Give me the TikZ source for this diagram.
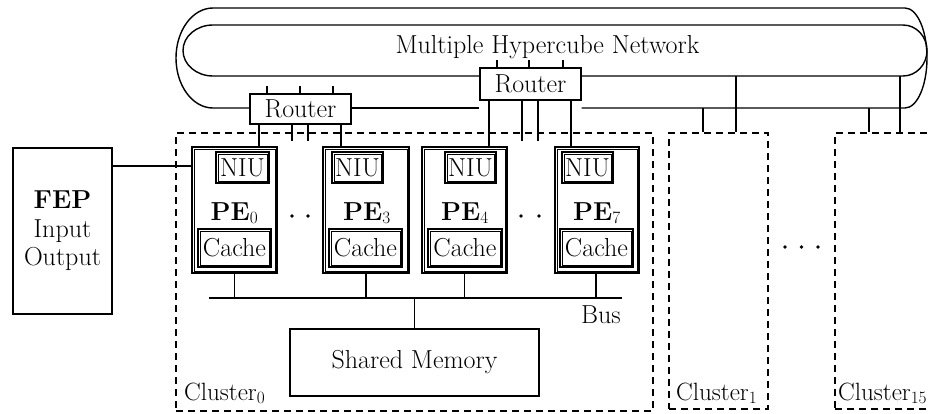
\documentclass[tikz,border=0pt]{standalone}
\usetikzlibrary{calc}
\begin{document}
\begin{tikzpicture}[x=1pt,y=-1pt,
  every node/.style={font=\fontsize{26}{28.5}\selectfont, inner sep=0pt},
  box/.style={draw, line width=1.4pt, rectangle},
  dbox/.style={draw, rectangle, line width=1.3pt},
  inner/.style={line width=0.7pt},
  wire/.style={line width=1.4pt},
  busline/.style={line width=2.4pt},
  clus/.style={draw, line width=1.4pt, dash pattern=on 7pt off 5pt},
  cl/.style={font=\fontsize{25}{28}\selectfont, anchor=base west},
  pelbl/.style={anchor=base},
  dot/.style={circle, fill, minimum size=3.6pt, inner sep=0pt}]
\useasboundingbox (0,0) rectangle (929,413);

% clusters
\node[clus, minimum width=477pt, minimum height=278pt] (c0) at (414.5,272) {};
\node[clus, minimum width=99pt, minimum height=276pt] (c1) at (718.5,271) {};
\node[clus, minimum width=100pt, minimum height=276pt] (c15) at (885,271) {};
\node[cl] (c0l) at (184,400) {Cluster$_0$};
\node[cl] (c1l) at (676,400) {Cluster$_1$};
\node[cl] (c15l) at (838,400) {Cluster$_{15}$};
\node[dot] (cd1) at (785,247) {};
\node[dot] (cd2) at (801.5,247) {};
\node[dot] (cd3) at (818,247) {};

% routers
\node[box, minimum width=101pt, minimum height=30pt] (r1) at (300.5,109) {Router};
\node[box, minimum width=101pt, minimum height=32pt] (r2) at (530.5,84) {Router};

% network loops
\draw[wire] (r1.west |- 0,108) -- (213,108)
  arc[start angle=90, end angle=270, x radius=37, y radius=50] -- (905,8)
  arc[start angle=-90, end angle=90, x radius=22, y radius=50] -- (r2.east |- 0,108);
\draw[wire] (r1.east |- 0,108) -- (r2.west |- 0,108);
\draw[wire] (r2.west |- 0,76) -- (213,76)
  arc[start angle=90, end angle=270, x radius=30, y radius=25.5] -- (903,25)
  arc[start angle=-90, end angle=90, x radius=24, y radius=25.5] -- (r2.east |- 0,76);
\node[anchor=base] (net) at (547.5,53) {Multiple Hypercube Network};

% router top ticks
\foreach \x in {267,300,333} \draw[wire] (r1.north -| \x,0) -- ++(0,-7);
\foreach \x in {497,529,563} \draw[wire] (r2.north -| \x,0) -- ++(0,-7);

% network to other clusters
\draw[wire] (703,108) -- (c1.north -| 703,0);
\draw[wire] (736,76) -- (c1.north -| 736,0);
\draw[wire] (869,108) -- (c15.north -| 869,0);
\draw[wire] (900,76) -- (c15.north -| 900,0);

% FEP
\node[box, minimum width=99pt, minimum height=166pt, align=center] (fep) at (62.5,231)
  {\textbf{FEP}\\Input\\Output};

% PEs
\node[dbox, minimum width=85pt, minimum height=126pt] (pe0) at (234.5,210) {};
\node[dbox, minimum width=86pt, minimum height=126pt] (pe3) at (366,210) {};
\node[dbox, minimum width=85pt, minimum height=126pt] (pe4) at (464.5,210) {};
\node[dbox, minimum width=84pt, minimum height=126pt] (pe7) at (597,210) {};

\node[dbox, minimum width=53pt, minimum height=31pt] (niu0) at (242.5,167.5) {NIU};
\node[dbox, minimum width=51pt, minimum height=31pt] (niu3) at (357.5,167.5) {NIU};
\node[dbox, minimum width=51pt, minimum height=31pt] (niu4) at (470.5,167.5) {NIU};
\node[dbox, minimum width=51pt, minimum height=31pt] (niu7) at (587.5,167.5) {NIU};

\node[dbox, minimum width=73pt, minimum height=38pt] (ca0) at (234.5,248) {Cache};
\node[dbox, minimum width=73pt, minimum height=38pt] (ca3) at (365.5,248) {Cache};
\node[dbox, minimum width=74pt, minimum height=38pt] (ca4) at (465,248) {Cache};
\node[dbox, minimum width=73pt, minimum height=38pt] (ca7) at (596.5,248) {Cache};

% inner lines of the double outlines
\foreach \n in {pe0,pe3,pe4,pe7,niu0,niu3,niu4,niu7,ca0,ca3,ca4,ca7}
  \draw[inner] ($(\n.north west)+(2.8,2.8)$) rectangle ($(\n.south east)+(-2.8,-2.8)$);

\node[pelbl] (p0) at (234.5,220) {\textbf{PE}$_0$};
\node[pelbl] (p3) at (367,220) {\textbf{PE}$_3$};
\node[pelbl] (p4) at (465,220) {\textbf{PE}$_4$};
\node[pelbl] (p7) at (597,220) {\textbf{PE}$_7$};

\node[dot] (d1) at (292,216) {};
\node[dot] (d2) at (308,216) {};
\node[dot] (d3) at (521,216) {};
\node[dot] (d4) at (539,216) {};

% router to PEs
\draw[wire] (r1.south -| 259,0) -- (pe0.north -| 259,0);
\draw[wire] (r1.south -| 341,0) -- (pe3.north -| 341,0);
\draw[wire] (r2.south -| 489,0) -- (pe4.north -| 489,0);
\draw[wire] (r2.south -| 571,0) -- (pe7.north -| 571,0);
\coordinate (s1) at (292,141);
\coordinate (s2) at (308,141);
\coordinate (s3) at (522,141);
\coordinate (s4) at (538,141);
\draw[wire] (r1.south -| s1) -- (s1);
\draw[wire] (r1.south -| s2) -- (s2);
\draw[wire] (r2.south -| s3) -- (s3);
\draw[wire] (r2.south -| s4) -- (s4);

% FEP link
\draw[wire] (fep.east |- 0,166) -- (pe0.west |- 0,166);

% bus
\coordinate (busL) at (209,298);
\coordinate (busR) at (622,298);
\draw[busline] (busL) -- (busR);
\draw[wire] (pe0.south) -- (pe0.south |- busL);
\draw[wire] (pe3.south) -- (pe3.south |- busL);
\draw[wire] (pe4.south) -- (pe4.south |- busL);
\draw[wire] (pe7.south -| 596,0) -- (busL -| 596,0);
\node[anchor=base east] (buslbl) at (621,323) {Bus};

% shared memory
\node[box, minimum width=249pt, minimum height=67pt] (mem) at (414.5,362.5) {Shared Memory};
\draw[wire] (mem.north) -- (mem.north |- busL);
\end{tikzpicture}
\end{document}
